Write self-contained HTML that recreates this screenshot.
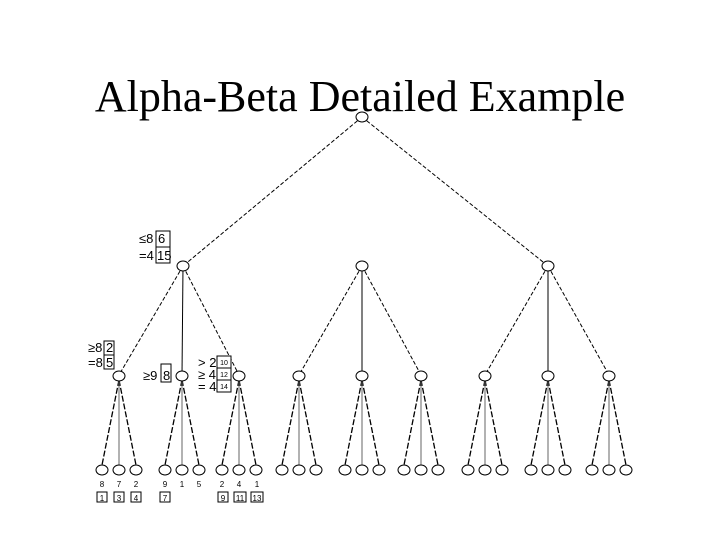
<!DOCTYPE html>
<html><head><style>body{margin:0;background:#fff}svg{display:block}</style></head><body>
<svg width="720" height="540" xmlns="http://www.w3.org/2000/svg" font-family="Liberation Sans, sans-serif">
<text x="360" y="111" text-anchor="middle" font-family="Liberation Serif, serif" font-size="44">Alpha-Beta Detailed Example</text>
<g stroke="#000" stroke-width="1" fill="none">
<g stroke-dasharray="4,2">
<line x1="362" y1="117" x2="183" y2="266"/><line x1="362" y1="117" x2="548" y2="266"/>
<line x1="183" y1="266" x2="119" y2="375"/><line x1="183" y1="266" x2="239" y2="375"/>
<line x1="362" y1="266" x2="299" y2="375"/><line x1="362" y1="266" x2="421" y2="375"/>
<line x1="548" y1="266" x2="485" y2="375"/><line x1="548" y1="266" x2="609" y2="375"/>
</g>
<line x1="183" y1="266" x2="182" y2="375"/><line x1="362" y1="266" x2="362" y2="375"/><line x1="548" y1="266" x2="548" y2="375"/>
<g stroke-dasharray="6,2" stroke-width="1.3">
<line x1="119" y1="380" x2="102" y2="465"/><line x1="119" y1="380" x2="136" y2="465"/>
<line x1="182" y1="380" x2="165" y2="465"/><line x1="182" y1="380" x2="199" y2="465"/>
<line x1="239" y1="380" x2="222" y2="465"/><line x1="239" y1="380" x2="256" y2="465"/>
<line x1="299" y1="380" x2="282" y2="465"/><line x1="299" y1="380" x2="316" y2="465"/>
<line x1="362" y1="380" x2="345" y2="465"/><line x1="362" y1="380" x2="379" y2="465"/>
<line x1="421" y1="380" x2="404" y2="465"/><line x1="421" y1="380" x2="438" y2="465"/>
<line x1="485" y1="380" x2="468" y2="465"/><line x1="485" y1="380" x2="502" y2="465"/>
<line x1="548" y1="380" x2="531" y2="465"/><line x1="548" y1="380" x2="565" y2="465"/>
<line x1="609" y1="380" x2="592" y2="465"/><line x1="609" y1="380" x2="626" y2="465"/>
</g>
<g stroke="#666">
<line x1="119" y1="380" x2="119" y2="465"/><line x1="182" y1="380" x2="182" y2="465"/><line x1="239" y1="380" x2="239" y2="465"/>
<line x1="299" y1="380" x2="299" y2="465"/><line x1="362" y1="380" x2="362" y2="465"/><line x1="421" y1="380" x2="421" y2="465"/>
<line x1="485" y1="380" x2="485" y2="465"/><line x1="548" y1="380" x2="548" y2="465"/><line x1="609" y1="380" x2="609" y2="465"/>
</g>
</g>
<g stroke="#000" fill="#fff">
<ellipse cx="362" cy="117" rx="6" ry="5"/>
<ellipse cx="183" cy="266" rx="6" ry="5"/><ellipse cx="362" cy="266" rx="6" ry="5"/><ellipse cx="548" cy="266" rx="6" ry="5"/>
<ellipse cx="119" cy="376" rx="6" ry="5"/><ellipse cx="182" cy="376" rx="6" ry="5"/><ellipse cx="239" cy="376" rx="6" ry="5"/>
<ellipse cx="299" cy="376" rx="6" ry="5"/><ellipse cx="362" cy="376" rx="6" ry="5"/><ellipse cx="421" cy="376" rx="6" ry="5"/>
<ellipse cx="485" cy="376" rx="6" ry="5"/><ellipse cx="548" cy="376" rx="6" ry="5"/><ellipse cx="609" cy="376" rx="6" ry="5"/>
<ellipse cx="102" cy="470" rx="6" ry="5"/><ellipse cx="119" cy="470" rx="6" ry="5"/><ellipse cx="136" cy="470" rx="6" ry="5"/>
<ellipse cx="165" cy="470" rx="6" ry="5"/><ellipse cx="182" cy="470" rx="6" ry="5"/><ellipse cx="199" cy="470" rx="6" ry="5"/>
<ellipse cx="222" cy="470" rx="6" ry="5"/><ellipse cx="239" cy="470" rx="6" ry="5"/><ellipse cx="256" cy="470" rx="6" ry="5"/>
<ellipse cx="282" cy="470" rx="6" ry="5"/><ellipse cx="299" cy="470" rx="6" ry="5"/><ellipse cx="316" cy="470" rx="6" ry="5"/>
<ellipse cx="345" cy="470" rx="6" ry="5"/><ellipse cx="362" cy="470" rx="6" ry="5"/><ellipse cx="379" cy="470" rx="6" ry="5"/>
<ellipse cx="404" cy="470" rx="6" ry="5"/><ellipse cx="421" cy="470" rx="6" ry="5"/><ellipse cx="438" cy="470" rx="6" ry="5"/>
<ellipse cx="468" cy="470" rx="6" ry="5"/><ellipse cx="485" cy="470" rx="6" ry="5"/><ellipse cx="502" cy="470" rx="6" ry="5"/>
<ellipse cx="531" cy="470" rx="6" ry="5"/><ellipse cx="548" cy="470" rx="6" ry="5"/><ellipse cx="565" cy="470" rx="6" ry="5"/>
<ellipse cx="592" cy="470" rx="6" ry="5"/><ellipse cx="609" cy="470" rx="6" ry="5"/><ellipse cx="626" cy="470" rx="6" ry="5"/>
</g>
<g font-size="8" text-anchor="middle">
<text x="102" y="487">8</text><text x="119" y="487">7</text><text x="136" y="487">2</text>
<text x="165" y="487">9</text><text x="182" y="487">1</text><text x="199" y="487">5</text>
<text x="222" y="487">2</text><text x="239" y="487">4</text><text x="257" y="487">1</text>
</g>
<g stroke="#000" fill="#fff" stroke-width="1">
<rect x="97" y="492" width="10" height="10"/><rect x="114" y="492" width="10" height="10"/><rect x="131" y="492" width="10" height="10"/>
<rect x="160" y="492" width="10" height="10"/>
<rect x="218" y="492" width="10" height="10"/><rect x="234" y="492" width="12" height="10"/><rect x="251" y="492" width="12" height="10"/>
<rect x="156" y="231" width="14" height="32"/><line x1="156" y1="247" x2="170" y2="247"/>
<rect x="104" y="341" width="10" height="28"/><line x1="104" y1="355" x2="114" y2="355"/>
<rect x="161" y="364" width="10" height="18"/>
<rect x="217" y="356" width="14" height="36"/><line x1="217" y1="368" x2="231" y2="368"/><line x1="217" y1="380" x2="231" y2="380"/>
</g>
<g font-size="8" text-anchor="middle">
<text x="102" y="501">1</text><text x="119" y="501">3</text><text x="136" y="501">4</text>
<text x="165" y="501">7</text><text x="223" y="501">9</text><text x="240" y="501">11</text><text x="257" y="501">13</text>
<text x="224" y="365" font-size="7">10</text><text x="224" y="377" font-size="7">12</text><text x="224" y="389" font-size="7">14</text>
</g>
<g font-size="13">
<text x="139" y="243">≤8</text><text x="158" y="243">6</text>
<text x="139" y="260">=4</text><text x="157" y="260">15</text>
<text x="88" y="352">≥8</text><text x="106" y="352">2</text>
<text x="88" y="367">=8</text><text x="106" y="367">5</text>
<text x="143" y="380">≥9</text><text x="163" y="380">8</text>
<text x="198" y="367">&gt; 2</text><text x="198" y="379">≥ 4</text><text x="198" y="391">= 4</text>
</g>
</svg>
</body></html>
